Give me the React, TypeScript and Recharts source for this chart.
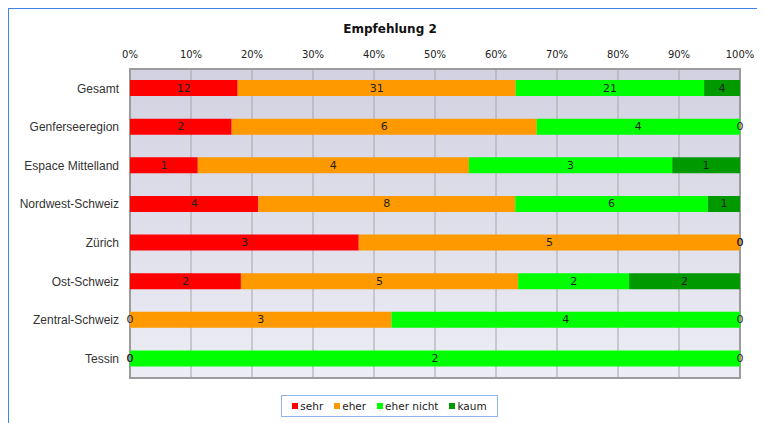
import React from "react";
import {
  BarChart,
  Bar,
  XAxis,
  YAxis,
  CartesianGrid,
  LabelList,
  ReferenceArea,
} from "recharts";

// categories top to bottom
const regions = [
  "Gesamt",
  "Genferseeregion",
  "Espace Mittelland",
  "Nordwest-Schweiz",
  "Zürich",
  "Ost-Schweiz",
  "Zentral-Schweiz",
  "Tessin",
];

// counts per answer
const sehr = [12, 2, 1, 4, 3, 2, 0, 0];
const eher = [31, 6, 4, 8, 5, 5, 3, 0];
const eherNicht = [21, 4, 3, 6, 0, 2, 4, 2];
const kaum = [4, 0, 1, 1, 0, 2, 0, 0];

const seriesNames = ["sehr", "eher", "eher nicht", "kaum"];
const seriesColors = ["#ff0000", "#ff9900", "#00ff00", "#009900"];
const xTicks = [0, 0.1, 0.2, 0.3, 0.4, 0.5, 0.6, 0.7, 0.8, 0.9, 1];

const seriesValues = [sehr, eher, eherNicht, kaum];

const data = regions.map((name, i) => {
  const row: Record<string, string | number> = { name };
  seriesNames.forEach((s, j) => {
    row[s] = seriesValues[j][i];
  });
  return row;
});

const dejavu = "'DejaVu Sans', sans-serif";

// draws the count in the middle of the segment, zero counts included
const CountLabel = (props: any) => {
  const { x, y, width, height, value } = props;
  if (value === undefined || value === null) return null;
  const w = Math.abs(Number(width || 0)) < 0.5 ? 0 : Number(width);
  return (
    <text
      x={Number(x) + w / 2}
      y={Number(y) + Number(height || 0) / 2}
      textAnchor="middle"
      dominantBaseline="central"
      fill="#222"
      fontSize={11}
      fontFamily={dejavu}
    >
      {String(value)}
    </text>
  );
};

export default function App() {
  return (
    <div style={{ position: "relative", width: 757, height: 415 }}>
      <div
        style={{
          position: "absolute",
          left: -1,
          top: -1,
          width: 760,
          height: 420,
          borderTop: "2px solid #3f82e8",
          borderLeft: "2px solid #3f82e8",
        }}
      />
      <div
        style={{
          position: "absolute",
          top: 14,
          left: 282,
          width: 200,
          textAlign: "center",
          fontFamily: dejavu,
          fontWeight: "bold",
          fontSize: 12,
          color: "#111",
        }}
      >
        Empfehlung 2
      </div>
      <BarChart
        width={757}
        height={415}
        data={data}
        layout="vertical"
        stackOffset="expand"
        margin={{ top: 31, right: 25, bottom: 45, left: 0 }}
      >
        <defs>
          <linearGradient id="plotBg" x1="0" y1="0" x2="0" y2="1">
            <stop offset="0%" stopColor="#d1d1e1" />
            <stop offset="100%" stopColor="#ededf5" />
          </linearGradient>
        </defs>
        <CartesianGrid
          horizontal={false}
          vertical={true}
          stroke="#a6a6a6"
          fill="url(#plotBg)"
          fillOpacity={1}
        />
        <XAxis
          type="number"
          orientation="top"
          domain={[0, 1]}
          ticks={xTicks}
          tickFormatter={(v: number) => `${Math.round(v * 100)}%`}
          height={30}
          axisLine={false}
          tickLine={false}
          tickSize={6}
          tickMargin={5}
          tick={{ fontFamily: dejavu, fontSize: 10, fill: "#222" }}
        />
        <YAxis
          type="category"
          dataKey="name"
          width={122}
          axisLine={false}
          tickLine={false}
          tickSize={5}
          tickMargin={6}
          tick={{ fontFamily: "'Liberation Sans', Arial, sans-serif", fontSize: 12, fill: "#333" }}
        />
        {seriesNames.map((s, j) => (
          <Bar
            key={s}
            dataKey={s}
            stackId="a"
            fill={seriesColors[j]}
            barSize={16}
            minPointSize={0.01}
            isAnimationActive={false}
          >
            <LabelList dataKey={s} content={CountLabel} />
          </Bar>
        ))}
        <ReferenceArea
          x1={0}
          x2={1}
          fill="none"
          stroke="#9c9c9c"
          strokeWidth={2}
          ifOverflow="visible"
        />
      </BarChart>
      <div
        style={{
          position: "absolute",
          left: 273,
          top: 387,
          width: 215,
          height: 20,
          border: "1px solid #8fb3f0",
          display: "flex",
          alignItems: "center",
          justifyContent: "center",
          gap: 11,
          fontFamily: dejavu,
          fontSize: 10.5,
          color: "#222",
          background: "#fff",
        }}
      >
        {seriesNames.map((s, j) => (
          <div key={s} style={{ display: "flex", alignItems: "center", gap: 2 }}>
            <span
              style={{
                display: "inline-block",
                width: 6,
                height: 6,
                background: seriesColors[j],
              }}
            />
            <span>{s}</span>
          </div>
        ))}
      </div>
    </div>
  );
}
